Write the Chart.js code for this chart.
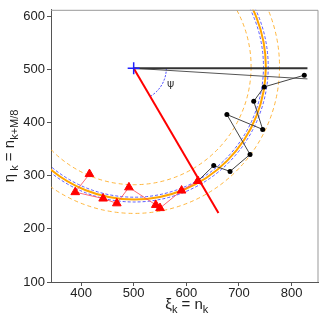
<!DOCTYPE html>
<html>
<head>
<meta charset="utf-8">
<script src="https://cdn.jsdelivr.net/npm/chart.js@4/dist/chart.umd.min.js"></script>
<style>
  body { margin: 0; background: #fff; }
  #wrap { width: 326px; height: 327px; }
</style>
</head>
<body>
<div id="wrap"><canvas id="chart" width="326" height="327"></canvas></div>
<script>
// axis ticks
const xTicks = [400, 500, 600, 700, 800];
const yTicks = [100, 200, 300, 400, 500, 600];
const xRange = [343, 851];
const yRange = [100, 612];

// fitted circle and its bands
const circleCenter = [501, 505];
const fitRadius = 250;
const bandRadii = [222, 276];
const blueRadii = [245.5, 254.5];

// centre marker, reference lines, angle
const centerPoint = [500, 502];
const radiusEnd = [661, 230];
const horizEnd = [830, 502];
const slantEnd = [830, 482];
const psiArcRadius = 62;
const psiLabelAt = [570, 472];

// black points (xi, eta)
const blackX = [824, 748, 728, 745, 677, 721, 683, 652, 622];
const blackY = [489, 467, 440, 387, 415, 340, 308, 319, 290];

// red triangles (xi, eta)
const redX = [416, 389, 442, 468, 491, 542, 550, 591, 622];
const redY = [303, 269, 257, 248, 278, 245, 239, 272, 290];

const toPts = (xs, ys) => xs.map((v, i) => ({ x: v, y: ys[i] }));
const seg = (p, q) => [{ x: p[0], y: p[1] }, { x: q[0], y: q[1] }];

function drawRich(ctx, parts, x, y) {
  // parts: [text, isSub]
  const big = '15px "Liberation Sans", Arial, sans-serif';
  const small = '11px "Liberation Sans", Arial, sans-serif';
  let total = 0;
  parts.forEach(p => { ctx.font = p[1] ? small : big; total += ctx.measureText(p[0]).width; });
  let cur = x - total / 2;
  parts.forEach(p => {
    ctx.font = p[1] ? small : big;
    ctx.fillText(p[0], cur, p[1] ? y + 4 : y);
    cur += ctx.measureText(p[0]).width;
  });
}

const overlay = {
  id: 'overlay',
  beforeDatasetsDraw(chart) {
    const { ctx, chartArea: a, scales: { x, y } } = chart;
    const cx = x.getPixelForValue(circleCenter[0]);
    const cy = y.getPixelForValue(circleCenter[1]);
    const ring = (r, color, width, dash) => {
      const rx = Math.abs(x.getPixelForValue(circleCenter[0] + r) - cx);
      const ry = Math.abs(y.getPixelForValue(circleCenter[1] + r) - cy);
      ctx.beginPath();
      ctx.ellipse(cx, cy, rx, ry, 0, 0, Math.PI * 2);
      ctx.strokeStyle = color;
      ctx.lineWidth = width;
      ctx.setLineDash(dash);
      ctx.stroke();
    };
    ctx.save();
    ctx.beginPath();
    ctx.rect(a.left, a.top, a.right - a.left, a.bottom - a.top);
    ctx.clip();
    bandRadii.forEach(r => ring(r, 'rgba(255,170,30,0.85)', 1, [4, 3]));
    blueRadii.forEach(r => ring(r, 'rgba(50,50,255,0.8)', 1, [3, 2]));
    ring(fitRadius, '#ffa500', 2, []);

    // psi arc between horizontal line and red radius
    const px = x.getPixelForValue(centerPoint[0]);
    const py = y.getPixelForValue(centerPoint[1]);
    const rpx = Math.abs(x.getPixelForValue(centerPoint[0] + psiArcRadius) - px);
    const ang = Math.atan2(y.getPixelForValue(radiusEnd[1]) - py, x.getPixelForValue(radiusEnd[0]) - px);
    ctx.beginPath();
    ctx.arc(px, py, rpx, 0, ang, false);
    ctx.strokeStyle = 'rgba(40,40,255,0.9)';
    ctx.lineWidth = 1;
    ctx.setLineDash([2, 1.5]);
    ctx.stroke();
    ctx.setLineDash([]);
    ctx.fillStyle = '#333';
    ctx.font = '11px "DejaVu Sans", sans-serif';
    ctx.textAlign = 'center';
    ctx.textBaseline = 'middle';
    ctx.fillText('ψ', x.getPixelForValue(psiLabelAt[0]), y.getPixelForValue(psiLabelAt[1]));
    ctx.restore();
  },
  afterDraw(chart) {
    const { ctx, chartArea: a } = chart;
    ctx.save();
    ctx.strokeStyle = '#999';
    ctx.lineWidth = 1;
    ctx.beginPath();
    ctx.moveTo(a.left, a.top + 0.5);
    ctx.lineTo(a.right - 0.5, a.top + 0.5);
    ctx.lineTo(a.right - 0.5, a.bottom);
    ctx.stroke();

    ctx.fillStyle = '#222';
    ctx.textAlign = 'left';
    ctx.textBaseline = 'alphabetic';
    drawRich(ctx, [['ξ', false], ['k', true], [' = n', false], ['k', true]], (a.left + a.right) / 2 + 2, 309);

    ctx.translate(14, (a.top + a.bottom) / 2);
    ctx.rotate(-Math.PI / 2);
    drawRich(ctx, [['η', false], [' k', true], [' = n', false], ['k+M/8', true]], 0, 0);
    ctx.restore();
  }
};

const ctx = document.getElementById('chart').getContext('2d');
new Chart(ctx, {
  type: 'scatter',
  data: {
    datasets: [
      {
        data: toPts([centerPoint[0]], [centerPoint[1]]),
        pointStyle: 'cross', pointRadius: 6, borderColor: '#2020ff', borderWidth: 1.5
      },
      {
        data: toPts(redX, redY), showLine: true,
        borderColor: 'rgba(255,80,90,0.85)', borderWidth: 1,
        pointStyle: 'triangle', pointRadius: 5,
        pointBackgroundColor: '#ff0000', pointBorderColor: '#ff0000', pointBorderWidth: 1
      },
      {
        data: toPts(blackX, blackY), showLine: true,
        borderColor: '#444', borderWidth: 1,
        pointRadius: 2.5, pointBackgroundColor: '#000', pointBorderColor: '#000', pointBorderWidth: 0
      },
      {
        data: seg(centerPoint, radiusEnd), showLine: true,
        borderColor: '#ff0000', borderWidth: 2, pointRadius: 0
      },
      {
        data: seg(centerPoint, horizEnd), showLine: true,
        borderColor: '#333', borderWidth: 2, pointRadius: 0
      },
      {
        data: seg(centerPoint, slantEnd), showLine: true,
        borderColor: '#555', borderWidth: 1, pointRadius: 0
      }
    ]
  },
  options: {
    responsive: false,
    animation: false,
    layout: { padding: { left: 0, top: 7, right: 6, bottom: 0 } },
    plugins: { legend: { display: false }, tooltip: { enabled: false } },
    scales: {
      x: {
        type: 'linear', min: xRange[0], max: xRange[1],
        afterBuildTicks: s => { s.ticks = xTicks.map(v => ({ value: v })); },
        afterFit: s => { s.height = 45; },
        grid: { display: true, drawOnChartArea: false, drawTicks: true, tickLength: 4, color: '#555' },
        border: { display: true, color: '#555', width: 1 },
        ticks: { color: '#222', padding: 0, font: { family: '"Liberation Sans", Arial, sans-serif', size: 13 } }
      },
      y: {
        type: 'linear', min: yRange[0], max: yRange[1],
        afterBuildTicks: s => { s.ticks = yTicks.map(v => ({ value: v })); },
        afterFit: s => { s.width = 51; },
        grid: { display: true, drawOnChartArea: false, drawTicks: true, tickLength: 4, color: '#555' },
        border: { display: true, color: '#555', width: 1 },
        ticks: { color: '#222', padding: 2, font: { family: '"Liberation Sans", Arial, sans-serif', size: 13 } }
      }
    }
  },
  plugins: [overlay]
});
</script>
</body>
</html>
